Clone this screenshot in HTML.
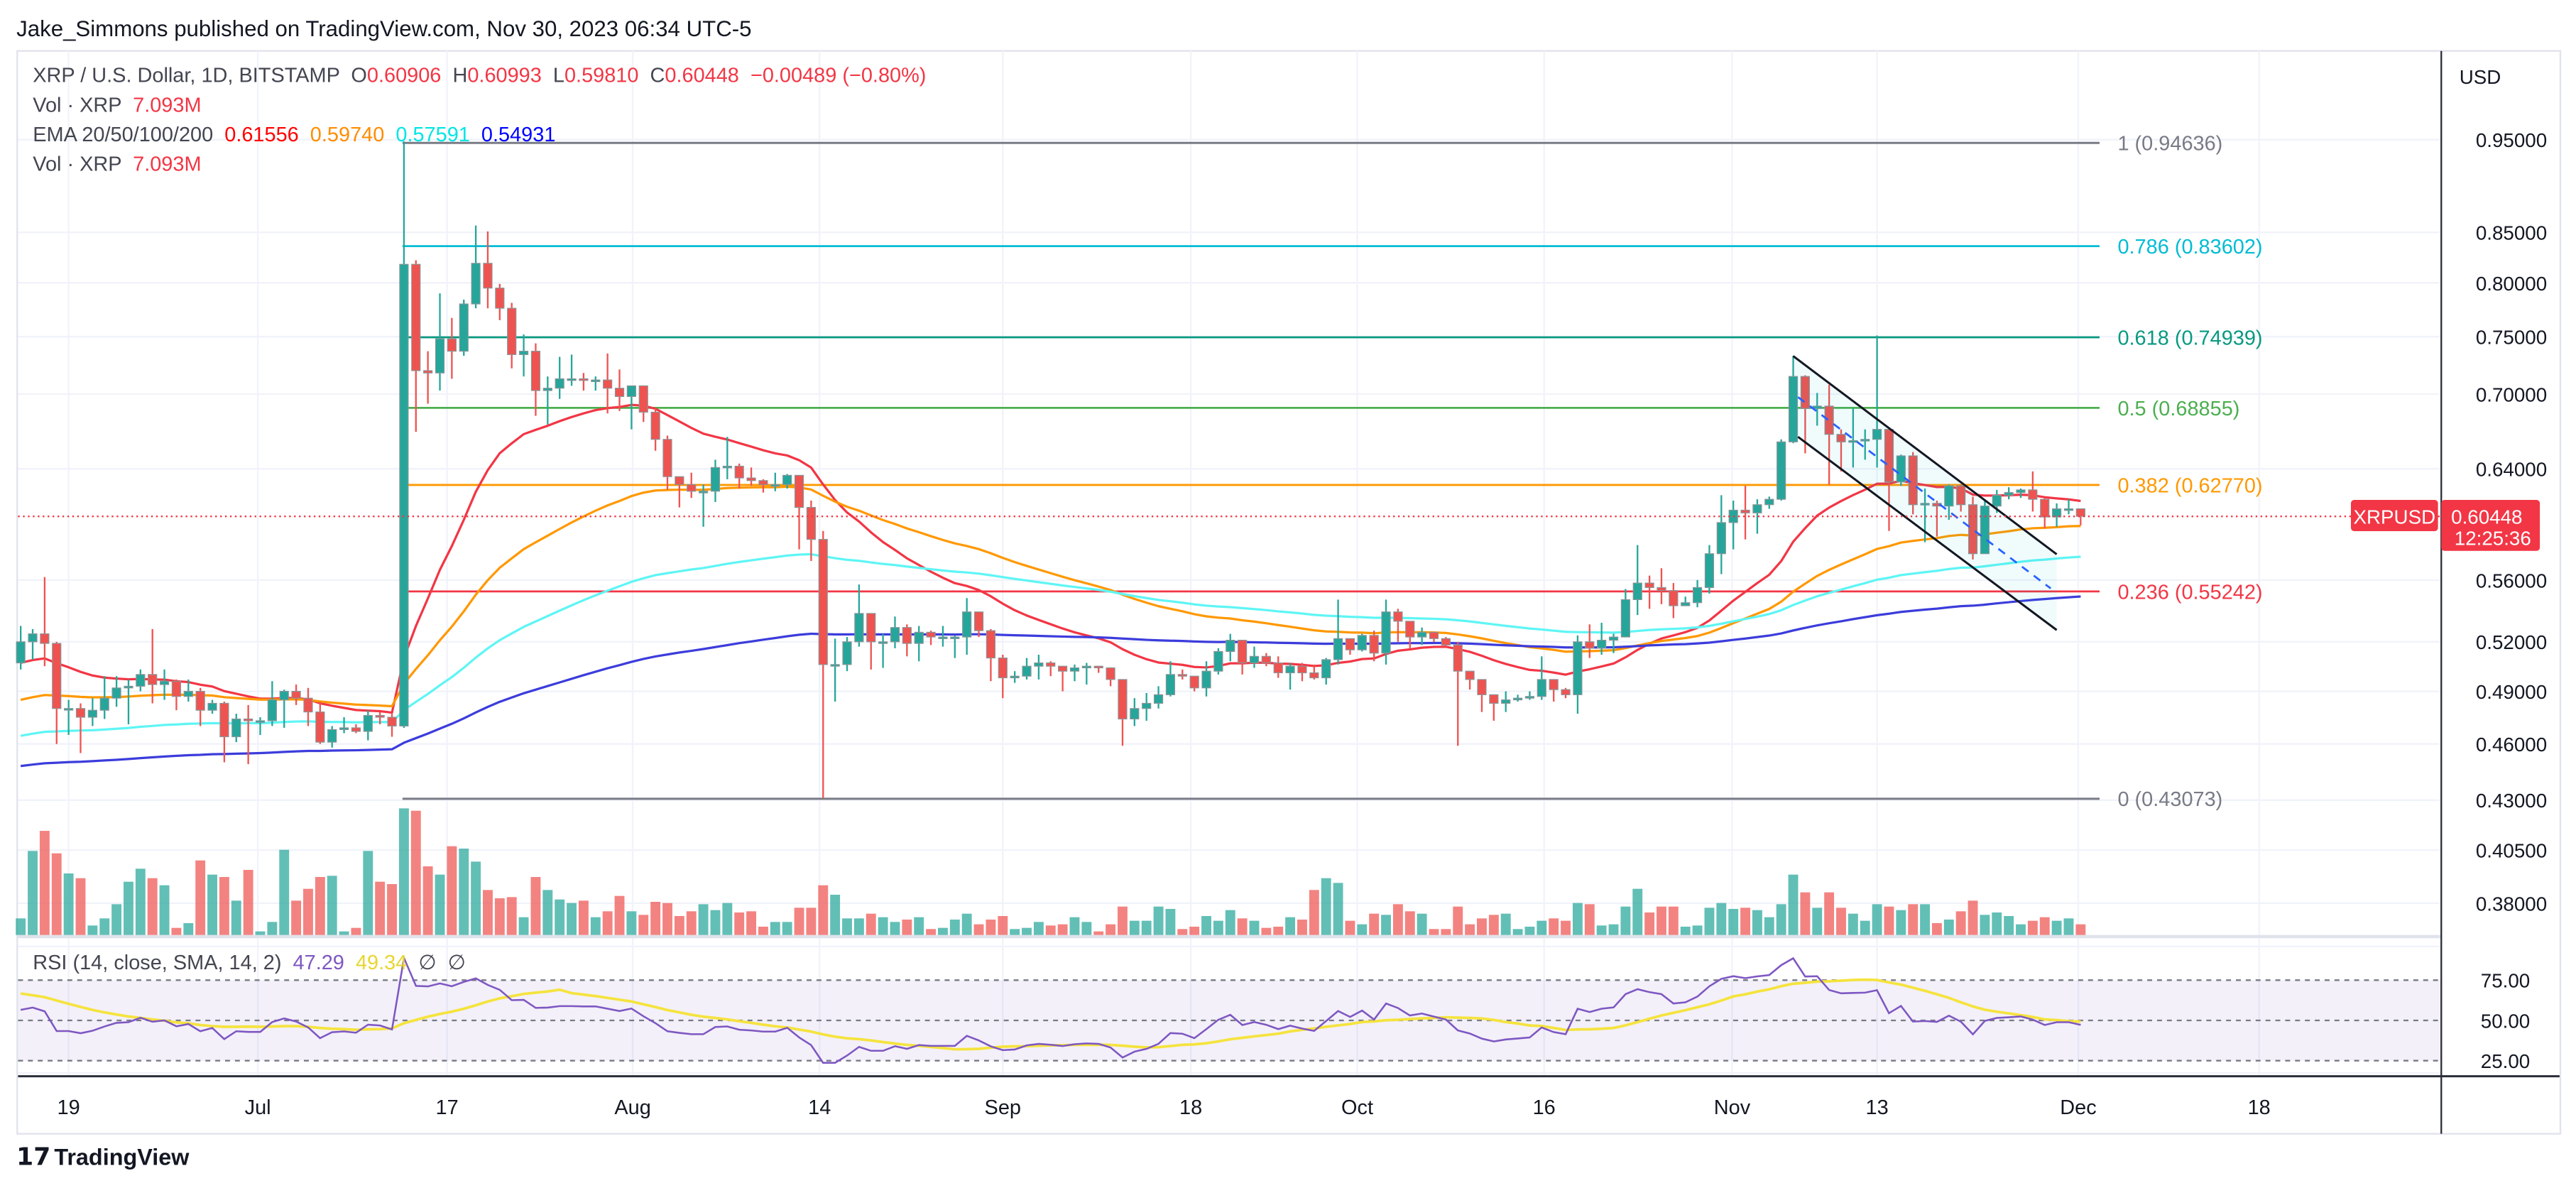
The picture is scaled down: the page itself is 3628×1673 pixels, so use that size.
<!DOCTYPE html>
<html><head><meta charset="utf-8"><title>XRPUSD chart</title>
<style>
html,body{margin:0;padding:0;background:#fff;}
svg{display:block;font-family:"Liberation Sans",Arial,sans-serif;}
</style></head>
<body>
<svg id="chart" xmlns="http://www.w3.org/2000/svg" width="3628" height="1673" viewBox="0 0 1568 723" preserveAspectRatio="none">
<rect x="0" y="0" width="1568" height="723" fill="#ffffff"/>
<text x="10" y="22" font-size="13.5" fill="#131722">Jake_Simmons published on TradingView.com, Nov 30, 2023 06:34 UTC-5</text>
<rect x="10.5" y="31" width="1548" height="659" fill="none" stroke="#e0e3eb" stroke-width="1"/>
<g id="grid"></g>
<g id="rsipane"></g>
<g id="vol"></g>
<g id="fib"></g>
<g id="emas"></g>
<g id="candles"></g>
<g id="channel"></g>
<g id="rsi"></g>
<g id="axes"></g>
<g font-size="12.5">
<text x="20" y="50" fill="#434651" xml:space="preserve">XRP / U.S. Dollar, 1D, BITSTAMP  O<tspan fill="#f23645">0.60906</tspan>  H<tspan fill="#f23645">0.60993</tspan>  L<tspan fill="#f23645">0.59810</tspan>  C<tspan fill="#f23645">0.60448  −0.00489 (−0.80%)</tspan></text>
<text x="20" y="68" fill="#434651" xml:space="preserve">Vol · XRP  <tspan fill="#f23645">7.093M</tspan></text>
<text x="20" y="86" fill="#434651" xml:space="preserve">EMA 20/50/100/200  <tspan fill="#ff0000">0.61556</tspan>  <tspan fill="#ff8c00">0.59740</tspan>  <tspan fill="#00e5e5">0.57591</tspan>  <tspan fill="#0000ff">0.54931</tspan></text>
<text x="20" y="104" fill="#434651" xml:space="preserve">Vol · XRP  <tspan fill="#f23645">7.093M</tspan></text>
<text x="20" y="590" fill="#434651" xml:space="preserve">RSI (14, close, SMA, 14, 2)  <tspan fill="#7e57c2">47.29</tspan>  <tspan fill="#e8d630">49.34</tspan>  ∅  ∅</text>
</g>
<text x="1497" y="51" font-size="12" fill="#131722">USD</text>
<g>
<text x="10" y="709" font-size="15" font-weight="bold" fill="#131722">𝟭𝟳</text>
<text x="33" y="709" font-size="14" font-weight="bold" fill="#131722">TradingView</text>
</g>
</svg>
<script>
const closes=[0.520,0.525,0.519,0.480,0.480,0.475,0.479,0.486,0.492,0.493,
0.500,0.494,0.496,0.487,0.490,0.479,0.483,0.464,0.474,0.473,
0.473,0.485,0.490,0.486,0.478,0.461,0.468,0.469,0.467,0.476,
0.475,0.470,0.818,0.720,0.718,0.748,0.737,0.780,0.819,0.795,
0.776,0.734,0.737,0.703,0.705,0.713,0.713,0.712,0.712,0.705,
0.698,0.707,0.685,0.663,0.634,0.628,0.623,0.623,0.641,0.642,
0.633,0.631,0.628,0.628,0.635,0.611,0.588,0.506,0.506,0.520,
0.538,0.520,0.520,0.529,0.519,0.526,0.523,0.523,0.523,0.539,
0.527,0.510,0.498,0.499,0.505,0.507,0.505,0.502,0.504,0.505,
0.504,0.497,0.474,0.480,0.483,0.488,0.500,0.499,0.492,0.502,
0.514,0.521,0.507,0.511,0.507,0.501,0.505,0.501,0.498,0.509,
0.522,0.515,0.524,0.513,0.539,0.533,0.523,0.526,0.522,0.518,
0.502,0.497,0.488,0.483,0.485,0.486,0.487,0.497,0.491,0.488,
0.520,0.516,0.521,0.523,0.547,0.558,0.555,0.553,0.543,0.545,
0.555,0.578,0.600,0.609,0.607,0.613,0.617,0.661,0.715,0.688,
0.690,0.667,0.661,0.662,0.663,0.671,0.630,0.650,0.613,0.614,
0.612,0.627,0.613,0.578,0.612,0.620,0.622,0.624,0.617,0.604,
0.610,0.610,0.6045];
const firstOpen=0.507;
const highs=[0.530,0.528,0.562,0.520,0.485,0.483,0.486,0.499,0.499,0.497,
0.503,0.528,0.503,0.497,0.497,0.492,0.485,0.484,0.477,0.482,
0.475,0.496,0.491,0.494,0.492,0.484,0.470,0.475,0.471,0.479,
0.478,0.477,0.948,0.822,0.737,0.790,0.767,0.784,0.857,0.851,
0.799,0.781,0.752,0.744,0.715,0.732,0.734,0.718,0.715,0.735,
0.721,0.707,0.707,0.688,0.666,0.634,0.637,0.628,0.647,0.665,
0.644,0.641,0.632,0.637,0.636,0.635,0.616,0.594,0.522,0.523,
0.557,0.538,0.525,0.536,0.531,0.530,0.527,0.530,0.524,0.548,
0.539,0.528,0.512,0.502,0.510,0.512,0.508,0.505,0.506,0.507,
0.504,0.503,0.497,0.486,0.489,0.493,0.508,0.503,0.499,0.508,
0.516,0.525,0.521,0.517,0.513,0.511,0.507,0.507,0.506,0.510,
0.547,0.521,0.525,0.527,0.547,0.541,0.532,0.529,0.526,0.523,
0.520,0.502,0.497,0.488,0.490,0.488,0.490,0.511,0.497,0.492,
0.524,0.531,0.532,0.525,0.554,0.584,0.563,0.568,0.558,0.549,
0.560,0.584,0.620,0.616,0.627,0.617,0.619,0.663,0.733,0.716,
0.701,0.708,0.671,0.688,0.671,0.751,0.671,0.651,0.653,0.625,
0.616,0.628,0.628,0.619,0.616,0.624,0.626,0.625,0.638,0.618,
0.614,0.617,0.610];
const lows=[0.503,0.509,0.505,0.460,0.465,0.455,0.470,0.474,0.481,0.471,
0.490,0.483,0.485,0.479,0.484,0.470,0.477,0.450,0.461,0.449,
0.465,0.470,0.469,0.482,0.470,0.460,0.458,0.466,0.466,0.462,
0.471,0.464,0.469,0.669,0.692,0.703,0.713,0.733,0.776,0.776,
0.765,0.722,0.715,0.682,0.675,0.696,0.707,0.703,0.703,0.684,
0.686,0.671,0.677,0.654,0.624,0.611,0.618,0.597,0.615,0.632,
0.625,0.627,0.622,0.623,0.625,0.581,0.573,0.431,0.484,0.502,
0.517,0.503,0.504,0.516,0.511,0.508,0.518,0.517,0.510,0.512,
0.523,0.496,0.486,0.495,0.497,0.497,0.499,0.490,0.496,0.494,
0.501,0.493,0.459,0.470,0.473,0.480,0.487,0.497,0.490,0.487,
0.500,0.508,0.500,0.504,0.505,0.498,0.491,0.496,0.497,0.494,
0.506,0.512,0.514,0.508,0.506,0.520,0.516,0.518,0.520,0.517,
0.459,0.491,0.478,0.473,0.478,0.484,0.485,0.485,0.484,0.486,
0.477,0.510,0.512,0.513,0.523,0.537,0.541,0.544,0.535,0.543,
0.542,0.551,0.564,0.581,0.588,0.592,0.610,0.616,0.660,0.652,
0.674,0.628,0.638,0.641,0.647,0.641,0.594,0.627,0.606,0.586,
0.590,0.602,0.608,0.574,0.578,0.607,0.617,0.618,0.608,0.596,
0.597,0.606,0.598];
const volumes=[14,71,88,69,52,48,8,14,26,45,
56,48,42,6,10,63,51,49,29,55,
3,11,72,29,39,49,50,3,6,71,
45,43,107,105,58,51,75,73,62,38,
31,32,15,49,38,30,27,29,15,20,
33,20,17,28,27,16,20,26,21,27,
19,20,7,11,11,23,23,42,34,14,
14,18,15,11,13,15,5,6,13,18,
9,13,16,5,6,11,8,9,15,11,
3,9,24,12,12,24,22,5,7,16,
12,21,14,12,6,7,15,13,38,48,
44,12,9,18,17,26,20,18,5,5,
24,9,14,17,18,5,7,12,14,12,
27,26,8,9,24,39,19,24,24,7,
8,23,27,22,23,21,15,26,51,36,
23,36,23,18,12,26,24,21,26,26,
10,13,20,29,17,19,16,9,12,15,
12,14,9];
const emaPeriods=[20,50,100,200];
const emaSeeds=[0.507,0.485,0.4645,0.448];
const emaColors=["#f23645","#ff9800","#5ff5f5","#3c3cdc"];
const priceTicks=[0.95,0.85,0.80,0.75,0.70,0.64,0.56,0.52,0.49,0.46,0.43,0.405,0.38];
const timeLabels=["19","Jul","17","Aug","14","Sep","18","Oct","16","Nov","13","Dec","18"];
const timeLabelIdx=[4,19.8,35.6,51.1,66.7,82,97.7,111.6,127.2,142.9,155,171.8,186.9];
const fibLevels=["1","0.786","0.618","0.5","0.382","0.236","0"];
const fibPrices=[0.94636,0.83602,0.74939,0.68855,0.62770,0.55242,0.43073];
const fibColors=["#787b86","#00bcd4","#089981","#4caf50","#ff9800","#f23645","#787b86"];
const channelUpper=[[148.0,0.7327],[170.0,0.5776]];
const channelLower=[[148.4,0.665],[170.0,0.5274]];
const channelMid=[[148.4,0.6975],[169.5,0.5544]];
const rsiTicks=[75,50,25];
const rsiSeedGain=0.0065, rsiSeedLoss=0.0050;
const rsiPrior=[74,73,72,71,70,69,68,67,66,64,63,61,60];
const lastPrice=0.60448;

const NS="http://www.w3.org/2000/svg";
const X0=12.6, DX=7.29, PLOT_L=11, PLOT_R=1486;
function xAt(i){return X0+i*DX;}
function yP(p){return 85+Math.log(0.95/p)*507.1;}
function yV(v){return 569-v*0.72;}
function yR(r){return 621-(r-50)*0.98;}
function mk(tag,attrs,parent){const e=document.createElementNS(NS,tag);for(const k in attrs)e.setAttribute(k,attrs[k]);parent.appendChild(e);return e;}
const G=id=>document.getElementById(id);
const n=Math.min(closes.length,highs.length,lows.length);
const opens=[];for(let i=0;i<n;i++)opens.push(i===0?firstOpen:closes[i-1]);

const grid=G('grid');
priceTicks.forEach(p=>{const l=mk('line',{x1:PLOT_L,x2:PLOT_R,y1:yP(p),y2:yP(p),stroke:'#f0f3fa','stroke-width':1},grid);

});
timeLabelIdx.forEach(ix=>{const x=xAt(ix);if(x>PLOT_R)return;const l=mk('line',{x1:x,x2:x,y1:31,y2:655,stroke:'#f0f3fa','stroke-width':1},grid);

});
[576,653].forEach(y=>{const l=mk('line',{x1:PLOT_L,x2:PLOT_R,y1:y,y2:y,stroke:'#f0f3fa','stroke-width':1},grid);

});

const rp=G('rsipane');
const sep=mk('line',{x1:PLOT_L,x2:PLOT_R,y1:570,y2:570,stroke:'#e0e3eb','stroke-width':2},rp);


const band=mk('rect',{x:PLOT_L,y:yR(75),width:PLOT_R-PLOT_L,height:yR(25)-yR(75),fill:'#7e57c2','fill-opacity':0.09},rp);


rsiTicks.forEach(t=>{const l=mk('line',{x1:PLOT_L,x2:PLOT_R,y1:yR(t),y2:yR(t),stroke:'#787b86','stroke-width':1,'stroke-dasharray':'3,3'},rp);

});

const vg=G('vol');
for(let i=0;i<n;i++){const up=closes[i]>=opens[i];const v=volumes[i]||0;
const r=mk('rect',{x:xAt(i)-3,y:yV(v),width:6,height:569-yV(v),fill:up?'#26a69a':'#ef5350','fill-opacity':0.72},vg);

}

const fg=G('fib');
fibPrices.forEach((p,k)=>{const y=yP(p);
const l=mk('line',{x1:245,x2:1278,y1:y,y2:y,stroke:fibColors[k],'stroke-width':k===0||k===6?1.3:1.2},fg);


const t=mk('text',{x:1289,y:y+4.5,'font-size':12.5,fill:fibColors[k]},fg);t.textContent=fibLevels[k]+' ('+p.toFixed(5)+')';

});

const eg=G('emas');
emaPeriods.forEach((per,k)=>{let e=emaSeeds[k];const a=2/(per+1);const pts=[];
for(let i=0;i<n;i++){if(i>0)e=e+a*(closes[i]-e);pts.push(xAt(i).toFixed(1)+','+yP(e).toFixed(1));}
const pl=mk('polyline',{points:pts.join(' '),fill:'none',stroke:emaColors[k],'stroke-width':1.4,'stroke-linejoin':'round'},eg);

});

const cg=G('candles');
for(let i=0;i<n;i++){const o=opens[i],c=closes[i];const up=c>=o;const col=up?'#26a69a':'#ef5350';const x=xAt(i);
const hi=Math.max(highs[i],o,c),lo=Math.min(lows[i],o,c);
const w=mk('line',{x1:x,x2:x,y1:yP(hi),y2:yP(lo),stroke:col,'stroke-width':1},cg);


const top=yP(Math.max(o,c)),bot=yP(Math.min(o,c));
const b=mk('rect',{x:x-2.6,y:top,width:5.2,height:Math.max(1,bot-top),fill:col,stroke:'#8a9599','stroke-width':0.5},cg);

}

const chg=G('channel');
const poly=[channelUpper[0],channelUpper[1],channelLower[1],channelLower[0]].map(q=>xAt(q[0]).toFixed(1)+','+yP(q[1]).toFixed(1)).join(' ');
const sh=mk('polygon',{points:poly,fill:'#00bcd4','fill-opacity':0.06},chg);


[[channelUpper,'channel-upper'],[channelLower,'channel-lower']].forEach(([s,nm])=>{
const l=mk('line',{x1:xAt(s[0][0]),y1:yP(s[0][1]),x2:xAt(s[1][0]),y2:yP(s[1][1]),stroke:'#131722','stroke-width':1.3},chg);

});
const md=mk('line',{x1:xAt(channelMid[0][0]),y1:yP(channelMid[0][1]),x2:xAt(channelMid[1][0]),y2:yP(channelMid[1][1]),stroke:'#2962ff','stroke-width':1.2,'stroke-dasharray':'5,4'},chg);



const ax=G('axes');
const yl=yP(lastPrice);
const pl=mk('line',{x1:PLOT_L,x2:PLOT_R,y1:yl,y2:yl,stroke:'#f23645','stroke-width':1,'stroke-dasharray':'1,2'},ax);



const rg=G('rsi');
let ag=rsiSeedGain,al=rsiSeedLoss;const rsiVals=[];
for(let i=0;i<n;i++){if(i>0){const d=closes[i]-closes[i-1];ag=(ag*13+Math.max(d,0))/14;al=(al*13+Math.max(-d,0))/14;}rsiVals.push(100-100/(1+ag/al));}
const allR=rsiPrior.concat(rsiVals);const smaVals=[];
for(let i=0;i<n;i++){let s=0;for(let k=0;k<14;k++)s+=allR[i+rsiPrior.length-k];smaVals.push(s/14);}
const sp=mk('polyline',{points:smaVals.map((r,i)=>xAt(i).toFixed(1)+','+yR(r).toFixed(1)).join(' '),fill:'none',stroke:'#f5e33d','stroke-width':1.6},rg);


const rl=mk('polyline',{points:rsiVals.map((r,i)=>xAt(i).toFixed(1)+','+yR(r).toFixed(1)).join(' '),fill:'none',stroke:'#7e57c2','stroke-width':1.1},rg);



const va=mk('line',{x1:PLOT_R,x2:PLOT_R,y1:31,y2:690,stroke:'#2a2e39','stroke-width':1},ax);


const ta=mk('line',{x1:PLOT_L,x2:1558,y1:655,y2:655,stroke:'#2a2e39','stroke-width':1.3},ax);


priceTicks.forEach(p=>{const t=mk('text',{x:1507,y:yP(p)+4.5,'font-size':12,fill:'#131722'},ax);t.textContent=p.toFixed(5);

});
rsiTicks.forEach(r=>{const t=mk('text',{x:1510,y:yR(r)+4.5,'font-size':12,fill:'#131722'},ax);t.textContent=r.toFixed(2);

});
timeLabels.forEach((s,k)=>{const t=mk('text',{x:xAt(timeLabelIdx[k]),y:678,'font-size':12.5,fill:'#131722','text-anchor':'middle'},ax);t.textContent=s;

});
const tag1=mk('rect',{x:1431,y:yl-10,width:53,height:19,rx:2,fill:'#f23645'},ax);


const tt1=mk('text',{x:1457.5,y:yl+4.5,'font-size':12,fill:'#fff','text-anchor':'middle'},ax);tt1.textContent='XRPUSD';


const tag2=mk('rect',{x:1486,y:yl-10,width:60,height:31,rx:2,fill:'#f23645'},ax);


const tt2=mk('text',{x:1492,y:yl+4.5,'font-size':12,fill:'#fff'},ax);tt2.textContent=lastPrice.toFixed(5);


const tt3=mk('text',{x:1494,y:yl+17.5,'font-size':12,fill:'#fff'},ax);tt3.textContent='12:25:36';


</script>
</body></html>
